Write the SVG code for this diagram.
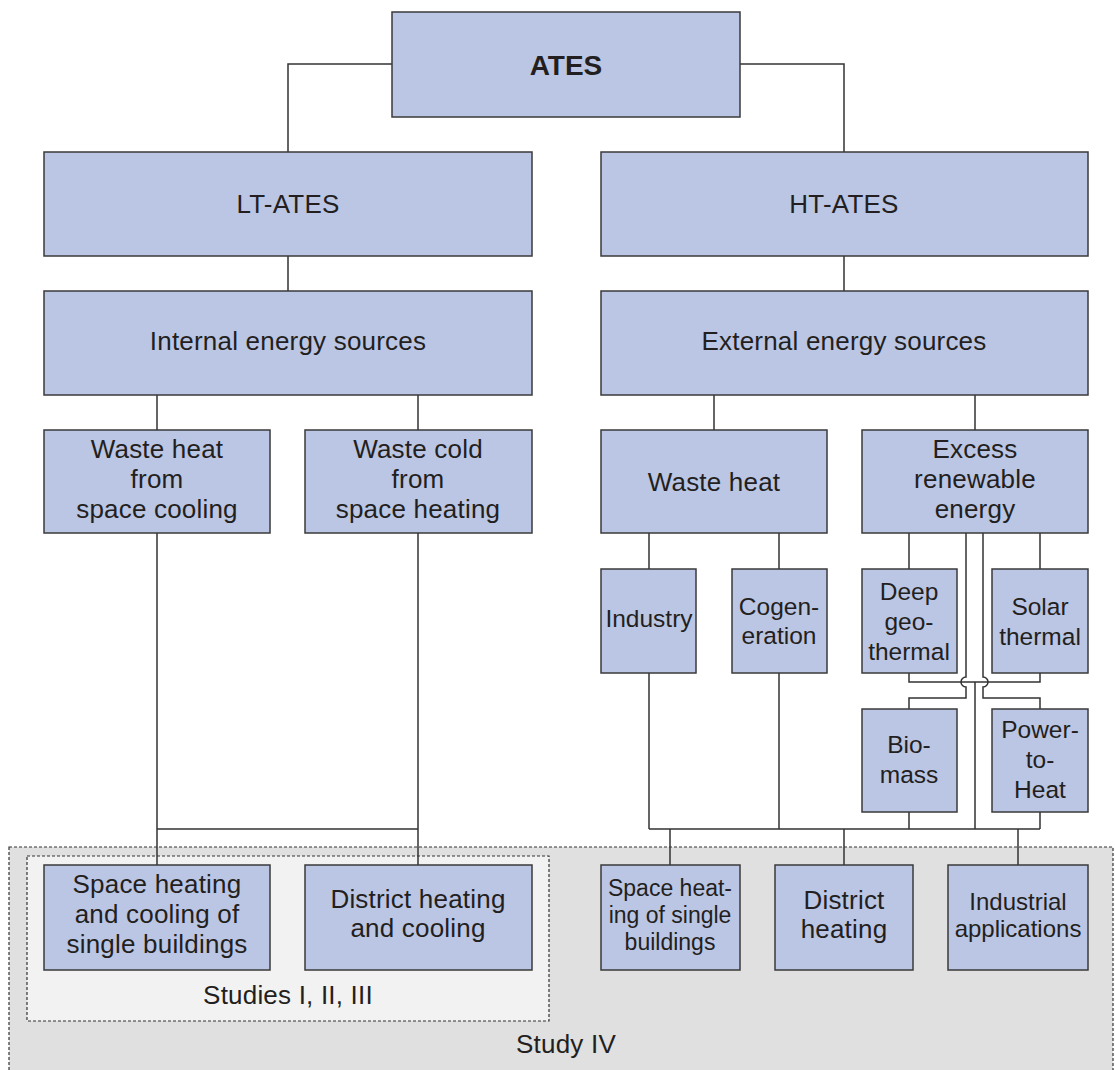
<svg xmlns="http://www.w3.org/2000/svg" width="1115" height="1070" viewBox="0 0 1115 1070">
<style>
.box{fill:#bbc6e4;stroke:#3a3a3a;stroke-width:1.5}
.ln{fill:none;stroke:#333;stroke-width:1.5}
text{font-family:"Liberation Sans",Arial,sans-serif;fill:#231f20;text-anchor:middle}
.t1{font-size:26px;letter-spacing:0.2px}
.t2{font-size:24.5px}
.t3{font-size:23px}
.t4{font-size:24px}
.dash{stroke:#333;stroke-width:1.2;stroke-dasharray:3 2}
</style>
<rect width="1115" height="1070" fill="#fff"/>
<g id="study4">
<rect x="9" y="847" width="1104" height="240" fill="#e0e0e0" class="dash"/>
<text class="t1" x="566" y="1053">Study IV</text>
</g>
<g id="studies123">
<rect x="27" y="856" width="522" height="165" fill="#f2f2f2" class="dash"/>
<text class="t1" x="288" y="1004">Studies I, II, III</text>
</g>
<g id="connectors">
<path class="ln" d="M392,64 H288 V152 M740,64 H844 V152"/>
<path class="ln" d="M288,256 V291 M844,256 V291"/>
<path class="ln" d="M157,395 V430 M418,395 V430 M714,395 V430 M975,395 V430"/>
<path class="ln" d="M157,533 V865 M418,533 V865 M157,829 H418"/>
<path class="ln" d="M649,533 V569 M779,533 V569 M909,533 V569 M1040,533 V569"/>
<path class="ln" d="M909,673 V682 H1040 V673 M975,682 V829"/>
<path class="ln" d="M966,533 V677 A5,5 0 0 0 966,687 V698 H909 V709"/>
<path class="ln" d="M983,533 V677 A5,5 0 0 1 983,687 V698 H1040 V709"/>
<path class="ln" d="M649,673 V829 M779,673 V829 M909,812 V829 M1040,812 V829 M649,829 H1040"/>
<path class="ln" d="M670,829 V865 M844,829 V865 M1018,829 V865"/>
</g>
<g id="ates"><rect class="box" x="392" y="12" width="348" height="105"/><text x="566" y="75" font-size="28" font-weight="bold">ATES</text></g>
<g id="lt-ates"><rect class="box" x="44" y="152" width="488" height="104"/><text class="t1" x="288" y="213">LT-ATES</text></g>
<g id="ht-ates"><rect class="box" x="601" y="152" width="487" height="104"/><text class="t1" x="844" y="213">HT-ATES</text></g>
<g id="internal"><rect class="box" x="44" y="291" width="488" height="104"/><text class="t1" x="288" y="350">Internal energy sources</text></g>
<g id="external"><rect class="box" x="601" y="291" width="487" height="104"/><text class="t1" x="844" y="350">External energy sources</text></g>
<g id="waste-heat-cooling"><rect class="box" x="44" y="430" width="226" height="103"/><text class="t1" x="157"><tspan x="157" y="458">Waste heat</tspan><tspan x="157" y="488">from</tspan><tspan x="157" y="518">space cooling</tspan></text></g>
<g id="waste-cold-heating"><rect class="box" x="305" y="430" width="227" height="103"/><text class="t1" x="418"><tspan x="418" y="458">Waste cold</tspan><tspan x="418" y="488">from</tspan><tspan x="418" y="518">space heating</tspan></text></g>
<g id="waste-heat"><rect class="box" x="601" y="430" width="226" height="103"/><text class="t1" x="714" y="491">Waste heat</text></g>
<g id="excess-renewable"><rect class="box" x="862" y="430" width="226" height="103"/><text class="t1" x="975"><tspan x="975" y="458">Excess</tspan><tspan x="975" y="488">renewable</tspan><tspan x="975" y="518">energy</tspan></text></g>
<g id="industry"><rect class="box" x="601" y="569" width="95" height="104"/><text class="t2" x="649" y="627">Industry</text></g>
<g id="cogeneration"><rect class="box" x="732" y="569" width="95" height="104"/><text class="t2" x="779"><tspan x="779" y="615">Cogen-</tspan><tspan x="779" y="644">eration</tspan></text></g>
<g id="deep-geothermal"><rect class="box" x="862" y="569" width="95" height="104"/><text class="t2" x="909"><tspan x="909" y="600">Deep</tspan><tspan x="909" y="630">geo-</tspan><tspan x="909" y="660">thermal</tspan></text></g>
<g id="solar-thermal"><rect class="box" x="992" y="569" width="96" height="104"/><text class="t2" x="1040"><tspan x="1040" y="615">Solar</tspan><tspan x="1040" y="645">thermal</tspan></text></g>
<g id="biomass"><rect class="box" x="862" y="709" width="95" height="103"/><text class="t2" x="909"><tspan x="909" y="753">Bio-</tspan><tspan x="909" y="783">mass</tspan></text></g>
<g id="power-to-heat"><rect class="box" x="992" y="709" width="96" height="103"/><text class="t2" x="1040"><tspan x="1040" y="738">Power-</tspan><tspan x="1040" y="768">to-</tspan><tspan x="1040" y="798">Heat</tspan></text></g>
<g id="space-heating-cooling"><rect class="box" x="44" y="865" width="226" height="105"/><text class="t1" x="157"><tspan x="157" y="893">Space heating</tspan><tspan x="157" y="923">and cooling of</tspan><tspan x="157" y="953">single buildings</tspan></text></g>
<g id="district-heating-cooling"><rect class="box" x="305" y="865" width="227" height="105"/><text class="t1" x="418"><tspan x="418" y="908">District heating</tspan><tspan x="418" y="937">and cooling</tspan></text></g>
<g id="space-heating-single"><rect class="box" x="601" y="865" width="139" height="105"/><text class="t3" x="670"><tspan x="670" y="896">Space heat-</tspan><tspan x="670" y="923">ing of single</tspan><tspan x="670" y="950">buildings</tspan></text></g>
<g id="district-heating"><rect class="box" x="775" y="865" width="138" height="105"/><text class="t1" x="844"><tspan x="844" y="909">District</tspan><tspan x="844" y="938">heating</tspan></text></g>
<g id="industrial-applications"><rect class="box" x="948" y="865" width="140" height="105"/><text class="t4" x="1018"><tspan x="1018" y="910">Industrial</tspan><tspan x="1018" y="937">applications</tspan></text></g>
</svg>
